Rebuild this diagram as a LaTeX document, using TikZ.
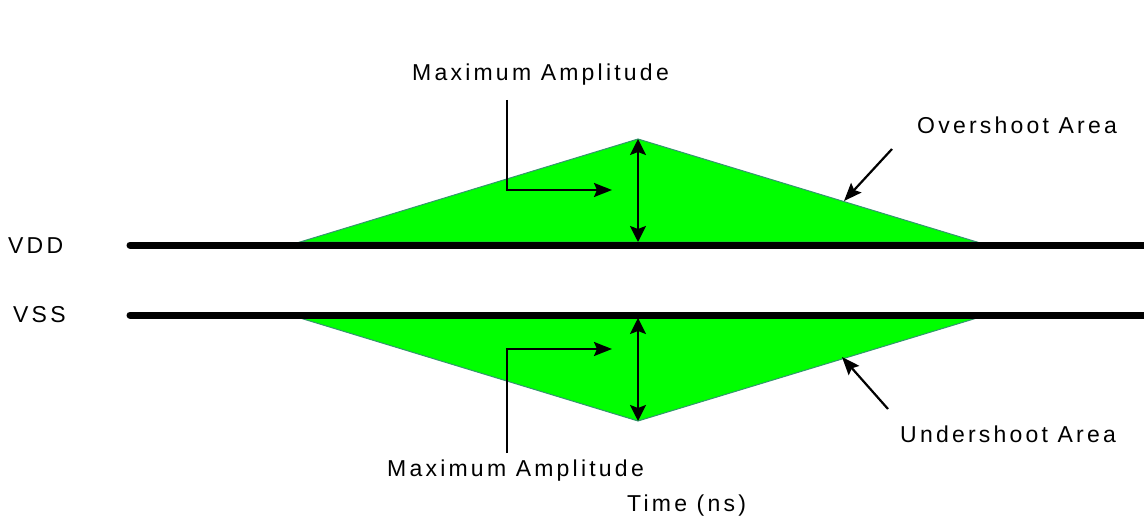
\documentclass[tikz,border=0pt]{standalone}
\usepackage{fontspec}
\setmainfont{Liberation Sans}[LetterSpace=14]
\usetikzlibrary{arrows.meta}
\definecolor{shootgreen}{RGB}{0,255,0}
\definecolor{shootedge}{RGB}{51,150,110}
\begin{document}
\begin{tikzpicture}[x=1pt,y=-1pt,
  lbl/.style={inner sep=0pt,anchor=base west,font=\fontsize{23}{26}\selectfont},
  rail/.style={line width=7pt,line cap=round},
  area/.style={fill=shootgreen,draw=shootedge,line width=1pt,line join=miter},
  ptr/.style={line width=2.2pt,-{Stealth[length=18pt,width=14pt,inset=3pt]}},
  dptr/.style={line width=2.2pt,{Stealth[length=16pt,width=16pt,inset=3pt]}-{Stealth[length=16pt,width=16pt,inset=3pt]}}]
\useasboundingbox (0,0) rectangle (1144,519);
% key points
\coordinate (uL) at (300,242);
\coordinate (uA) at (638,139);
\coordinate (uR) at (977,242);
\coordinate (uB) at (638,242);
\coordinate (lL) at (300,318);
\coordinate (lA) at (638,421);
\coordinate (lR) at (977,318);
\coordinate (lB) at (638,318);
\coordinate (vddS) at (130,245);
\coordinate (vddE) at (1150,245);
\coordinate (vssS) at (130,315);
\coordinate (vssE) at (1150,315);
% areas
\draw[area] (uL) -- (uA) -- (uR) -- cycle;
\draw[area] (lL) -- (lA) -- (lR) -- cycle;
% rails
\draw[rail] (vddS) -- (vddE);
\draw[rail] (vssS) -- (vssE);
% labels
\node[lbl] (vdd) at (8,253) {VDD};
\node[lbl] (vss) at (13,322) {VSS};
\node[lbl] (maxU) at (412,81) {Maximum Amplitude};
\node[lbl] (maxL) at (387,476) {Maximum Amplitude};
\node[lbl] (over) at (917,133) {Overshoot Area};
\node[lbl] (under) at (900,442) {Undershoot Area};
\node[lbl] (time) at (627,511) {Time (ns)};
% pointer coordinates
\coordinate (eU0) at (507,100);
\coordinate (eU1) at (612,190);
\coordinate (eL0) at (507,453);
\coordinate (eL1) at (612,349);
\coordinate (oS) at (892,149);
\coordinate (oT) at (844,201);
\coordinate (uS) at (888,409);
\coordinate (uT) at (842,357);
% amplitude arrows
\draw[dptr] (uA) -- (uB);
\draw[dptr] (lB) -- (lA);
\draw[ptr] (eU0) |- (eU1);
\draw[ptr] (eL0) |- (eL1);
\draw[ptr] (oS) -- (oT);
\draw[ptr] (uS) -- (uT);
\end{tikzpicture}
\end{document}
